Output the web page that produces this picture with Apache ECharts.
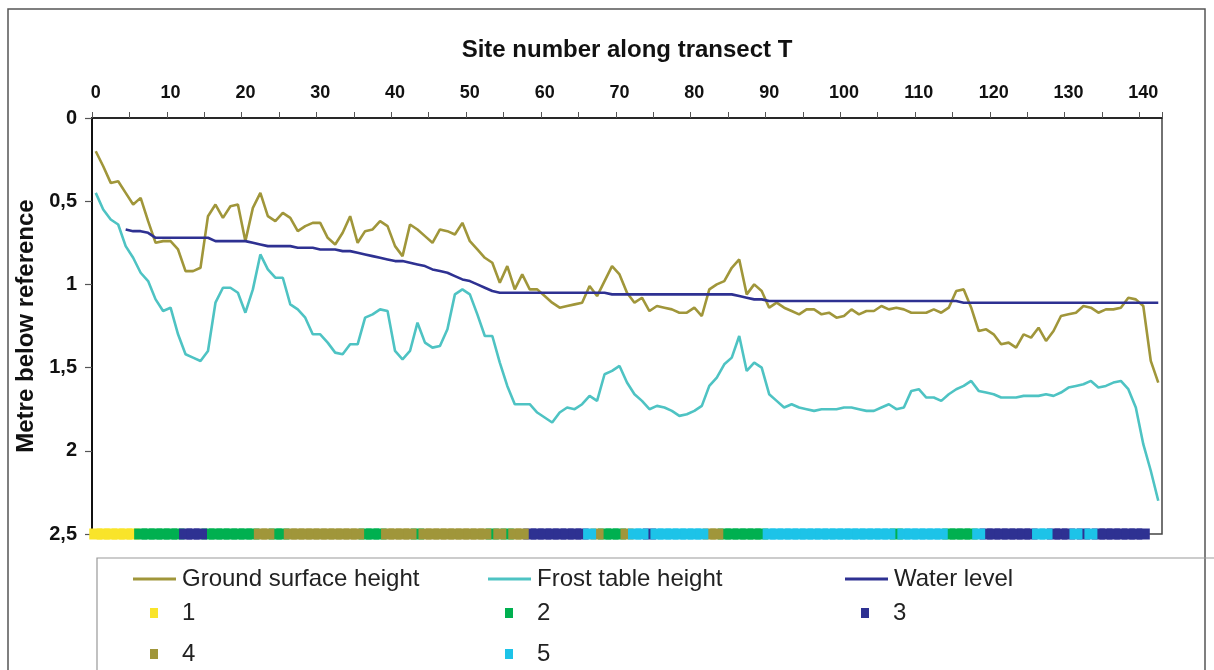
<!DOCTYPE html>
<html><head><meta charset="utf-8">
<script src="https://cdn.jsdelivr.net/npm/echarts@6/dist/echarts.min.js"></script>
<style>html,body{margin:0;padding:0;background:#fff}#c{width:1214px;height:670px}</style>
</head><body><div id="c"></div>
<script>
// Site numbers 0..142 along transect T
const sites = Array.from({length: 143}, (_, i) => i);

// Depth below reference (m)
const ground = [
0.20,0.29,0.39,0.38,0.45,0.52,0.48,0.62,0.75,0.74,
0.74,0.79,0.92,0.92,0.90,0.59,0.52,0.60,0.53,0.52,
0.74,0.54,0.45,0.59,0.62,0.57,0.60,0.68,0.65,0.63,
0.63,0.72,0.76,0.69,0.59,0.75,0.68,0.67,0.62,0.65,
0.77,0.83,0.64,0.67,0.71,0.75,0.67,0.68,0.70,0.63,
0.74,0.79,0.84,0.87,0.99,0.89,1.03,0.94,1.03,1.03,
1.07,1.11,1.14,1.13,1.12,1.11,1.01,1.07,0.98,0.89,
0.94,1.05,1.11,1.08,1.16,1.13,1.14,1.15,1.17,1.17,
1.14,1.19,1.03,1.00,0.98,0.90,0.85,1.06,1.00,1.04,
1.14,1.11,1.14,1.16,1.18,1.15,1.15,1.18,1.17,1.20,
1.19,1.15,1.18,1.16,1.16,1.13,1.15,1.14,1.15,1.17,
1.17,1.17,1.15,1.17,1.14,1.04,1.03,1.14,1.28,1.27,
1.30,1.36,1.35,1.38,1.30,1.32,1.26,1.34,1.28,1.19,
1.18,1.17,1.13,1.14,1.17,1.15,1.15,1.14,1.08,1.09,
1.13,1.46,1.59
];
const frost = [
0.45,0.55,0.61,0.64,0.77,0.84,0.93,0.98,1.09,1.16,
1.14,1.30,1.42,1.44,1.46,1.40,1.11,1.02,1.02,1.05,
1.17,1.03,0.82,0.91,0.96,0.96,1.12,1.15,1.20,1.30,
1.30,1.35,1.41,1.42,1.36,1.36,1.20,1.18,1.15,1.16,
1.40,1.45,1.40,1.23,1.35,1.38,1.37,1.27,1.06,1.03,
1.06,1.18,1.31,1.31,1.47,1.61,1.72,1.72,1.72,1.77,
1.80,1.83,1.77,1.74,1.75,1.72,1.67,1.70,1.54,1.52,
1.49,1.59,1.66,1.70,1.75,1.73,1.74,1.76,1.79,1.78,
1.76,1.73,1.61,1.56,1.48,1.44,1.31,1.52,1.47,1.50,
1.66,1.70,1.74,1.72,1.74,1.75,1.76,1.75,1.75,1.75,
1.74,1.74,1.75,1.76,1.76,1.74,1.72,1.75,1.74,1.64,
1.63,1.68,1.68,1.70,1.66,1.63,1.61,1.58,1.64,1.65,
1.66,1.68,1.68,1.68,1.67,1.67,1.67,1.66,1.67,1.65,
1.62,1.61,1.60,1.58,1.62,1.61,1.59,1.58,1.63,1.74,
1.96,2.12,2.30
];
const water = [
null,null,null,null,0.67,0.68,0.68,0.69,0.72,0.72,
0.72,0.72,0.72,0.72,0.72,0.72,0.74,0.74,0.74,0.74,
0.74,0.75,0.76,0.77,0.77,0.77,0.77,0.78,0.78,0.78,
0.79,0.79,0.79,0.80,0.80,0.81,0.82,0.83,0.84,0.85,
0.86,0.86,0.87,0.88,0.89,0.91,0.92,0.93,0.95,0.97,
0.98,1.00,1.02,1.04,1.05,1.05,1.05,1.05,1.05,1.05,
1.05,1.05,1.05,1.05,1.05,1.05,1.05,1.05,1.05,1.06,
1.06,1.06,1.06,1.06,1.06,1.06,1.06,1.06,1.06,1.06,
1.06,1.06,1.06,1.06,1.06,1.06,1.07,1.08,1.09,1.09,
1.10,1.10,1.10,1.10,1.10,1.10,1.10,1.10,1.10,1.10,
1.10,1.10,1.10,1.10,1.10,1.10,1.10,1.10,1.10,1.10,
1.10,1.10,1.10,1.10,1.10,1.10,1.11,1.11,1.11,1.11,
1.11,1.11,1.11,1.11,1.11,1.11,1.11,1.11,1.11,1.11,
1.11,1.11,1.11,1.11,1.11,1.11,1.11,1.11,1.11,1.11,
1.11,1.11,1.11
];
// Class (1-5) of each site shown in the strip along the bottom
const zone = [
1,1,1,1,1,1,2,2,2,2,
2,2,3,3,3,2,2,2,2,2,
2,2,4,4,2,2,4,4,4,4,
4,4,4,4,4,4,2,2,2,4,
4,4,4,2,4,4,4,4,4,4,
4,4,4,2,4,2,4,4,3,3,
3,3,3,3,3,3,5,4,2,2,
2,4,5,5,3,5,5,5,5,5,
5,5,4,4,2,2,2,2,2,2,
5,5,5,5,5,5,5,5,5,5,
5,5,5,5,5,5,5,2,5,5,
5,5,5,5,2,2,2,2,5,3,
3,3,3,3,3,3,5,5,3,3,
3,5,3,5,3,3,3,3,3,3,
3
];
const zoneLevel = 2.5;
const zoneNames = ['1','2','3','4','5'];
const zoneColors = ['#F9E42A','#00B050','#2E3192','#A0963A','#1DC3E8'];
const yTicks = [0, 0.5, 1, 1.5, 2, 2.5];

const FONT = 'Liberation Sans';
const chart = echarts.init(document.getElementById('c'), null, {renderer: 'canvas'});

const lineSeries = [
  {name: 'Ground surface height', data: ground, color: '#A0963A'},
  {name: 'Frost table height', data: frost, color: '#4EC3C3'},
  {name: 'Water level', data: water, color: '#2E3192'}
].map(s => ({
  type: 'line', name: s.name, data: s.data, showSymbol: false, symbol: 'none',
  connectNulls: false,
  lineStyle: {color: s.color, width: 2.6}, itemStyle: {color: s.color}, z: 3
}));

const zoneSeries = zoneNames.map((n, k) => ({
  type: 'custom', name: n, clip: false,
  itemStyle: {color: zoneColors[k]},
  encode: {x: 0, y: 1},
  data: sites.filter(i => zone[i] === k + 1).map(i => [i, zoneLevel]),
  renderItem: (params, api) => {
    const c = api.coord([api.value(0), api.value(1)]);
    return {type: 'rect', shape: {x: c[0] - 6.5, y: c[1] - 5.5, width: 13, height: 11},
      style: {fill: zoneColors[k], stroke: null}};
  },
  z: 2
}));

const legendText = {fontFamily: FONT, fontSize: 24, color: '#222'};
function lineLegend(name, left, top) {
  return {data: [name], left: left, top: top, icon: 'rect', itemWidth: 43, itemHeight: 3,
    textStyle: Object.assign({padding: [0, 0, 0, 1]}, legendText), selectedMode: false};
}
function boxLegend(name, left, top) {
  return {data: [name], left: left, top: top, icon: 'rect', itemWidth: 8, itemHeight: 10,
    textStyle: Object.assign({padding: [0, 0, 0, 19]}, legendText), selectedMode: false};
}

chart.setOption({
  animation: false,
  backgroundColor: '#fff',
  graphic: [
    {type: 'rect', z: -10, silent: true, shape: {x: 8, y: 9, width: 1197, height: 700},
     style: {fill: 'transparent', stroke: '#555', lineWidth: 1.5}},
    {type: 'rect', z: -10, silent: true, shape: {x: 97, y: 558, width: 1150, height: 200},
     style: {fill: 'transparent', stroke: '#999', lineWidth: 1.2}}
  ],
  grid: {left: 92, top: 118, width: 1070, height: 416, show: true, borderColor: '#444', borderWidth: 1.5,
    backgroundColor: 'transparent'},
  legend: [
    lineLegend('Ground surface height', 128, 562),
    lineLegend('Frost table height', 483, 562),
    lineLegend('Water level', 840, 562),
    boxLegend('1', 145, 596),
    boxLegend('2', 500, 596),
    boxLegend('3', 856, 596),
    boxLegend('4', 145, 637),
    boxLegend('5', 500, 637)
  ],
  xAxis: {
    type: 'category', position: 'top', data: sites, boundaryGap: true,
    name: 'Site number along transect T', nameLocation: 'middle', nameGap: 56,
    nameTextStyle: {fontFamily: FONT, fontSize: 24, fontWeight: 'bold', color: '#111'},
    axisLine: {show: true, lineStyle: {color: '#111', width: 1.5}},
    axisTick: {show: true, length: 6, interval: (i) => i % 5 === 0, lineStyle: {color: '#555', width: 1}},
    axisLabel: {interval: (i) => i % 10 === 0, margin: 16, fontFamily: FONT, fontSize: 18,
      fontWeight: 'bold', color: '#111'},
    splitLine: {show: false}
  },
  yAxis: {
    type: 'value', inverse: true, min: 0, max: 2.5, interval: 0.5,
    name: 'Metre below reference', nameLocation: 'middle', nameGap: 52,
    nameTextStyle: {fontFamily: FONT, fontSize: 24, fontWeight: 'bold', color: '#111'},
    axisLine: {show: true, lineStyle: {color: '#111', width: 2}},
    axisTick: {show: true, length: 7, lineStyle: {color: '#555', width: 1.2}},
    axisLabel: {margin: 15, fontFamily: FONT, fontSize: 20, fontWeight: 'bold', color: '#111',
      formatter: (v) => String(yTicks.find(t => Math.abs(t - v) < 1e-9) ?? v).replace('.', ',')},
    splitLine: {show: false}
  },
  series: lineSeries.concat(zoneSeries)
});
</script>
</body></html>
